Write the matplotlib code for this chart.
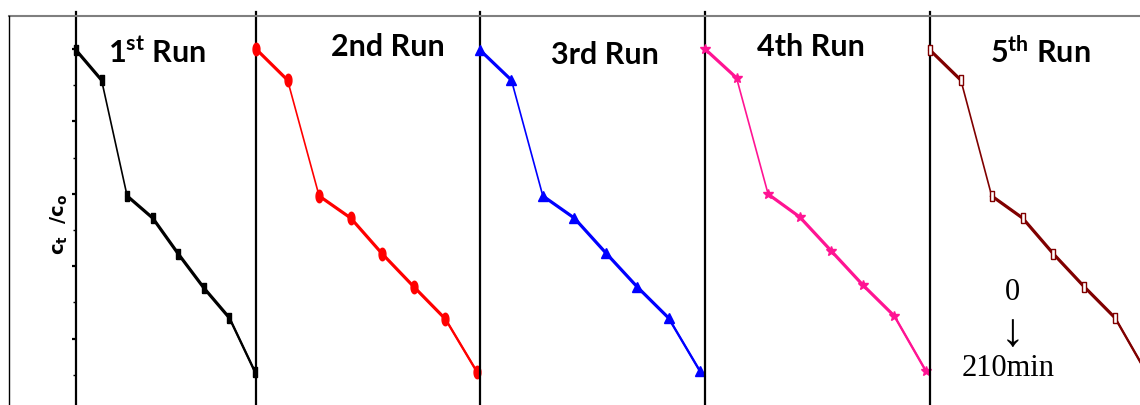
import numpy as np
import matplotlib
matplotlib.use("Agg")
import matplotlib.pyplot as plt
from matplotlib.lines import Line2D

plt.rcParams['mathtext.fontset'] = 'custom'
plt.rcParams['mathtext.rm'] = 'Lato:bold'
plt.rcParams['mathtext.bf'] = 'DejaVu Sans:bold'

# ---- data ----
time_min = [0, 30, 60, 90, 120, 150, 180, 210]
run1 = [0.997, 0.914, 0.594, 0.533, 0.434, 0.340, 0.257, 0.108]
run2 = [1.000, 0.914, 0.594, 0.533, 0.434, 0.343, 0.254, 0.108]
run3 = [0.997, 0.914, 0.594, 0.533, 0.437, 0.343, 0.257, 0.110]
run4 = [1.000, 0.920, 0.599, 0.536, 0.442, 0.348, 0.262, 0.110]
run5 = [0.997, 0.914, 0.594, 0.533, 0.434, 0.343, 0.257, 0.108]
runs = [run1, run2, run3, run4, run5]
titles = [r'1$^{\mathrm{st}}$ Run', '2nd Run', '3rd Run', '4th Run', r'5$^{\mathrm{th}}$ Run']
ylabel = r'$\mathbf{c_t}\ \ \mathbf{/c_o}$'
yticks_major = [0.2, 0.4, 0.6, 0.8, 1.0]
yticks_minor = [0.1, 0.3, 0.5, 0.7, 0.9]

# ---- style / layout ----
W, H = 1140, 405
colors = ['black', '#FF0000', '#0000FF', '#FF1493', '#800000']
rect = [(-0.35, -1), (0.35, -1), (0.35, 1), (-0.35, 1), (-0.35, -1)]
t = np.linspace(0, 2 * np.pi, 40)
ellipse = list(zip(0.55 * np.cos(t), np.sin(t)))
markers = [rect, ellipse, '^', '*', rect]
msizes = [7, 9, 7, 7, 7]
mfcs = ['black', '#FF0000', '#0000FF', '#FF1493', 'white']
edges = [76, 256, 480, 705, 930, 1140]      # panel left edges (px)
lastx = [255, 477, 700, 926, 1146]          # pixel of the 210-min point
title_pos = [(157, 53), (388, 47), (605, 55), (811, 47), (1040, 52)]
ytop_px, ybot_px = 12, 405
ylim = (1 - (ybot_px - 49) / 362, 1 + (49 - ytop_px) / 362)

fig = plt.figure(figsize=(W / 100, H / 100), dpi=100)

for i in range(5):
    l, r = edges[i], edges[i + 1]
    ax = fig.add_axes([l / W, 1 - ybot_px / H, (r - l) / W, (ybot_px - ytop_px) / H])
    ax.patch.set_alpha(0)
    xmax = 210 * (r - l) / (lastx[i] - l)
    ax.set_xlim(0, xmax)
    ax.set_ylim(*ylim)
    for s in ['top', 'right', 'bottom']:
        ax.spines[s].set_visible(False)
    ax.spines['left'].set_linewidth(1.6)
    ax.spines['left'].set_color('black')
    ax.set_xticks([])
    if i == 0:
        ax.set_yticks(yticks_major)
        ax.set_yticks(yticks_minor, minor=True)
        ax.tick_params(axis='y', which='major', length=3, width=1.6, labelleft=False)
        ax.tick_params(axis='y', which='minor', length=2, width=1.0, labelleft=False)
    else:
        ax.set_yticks([])
    y = runs[i]
    c = colors[i]
    ax.plot(time_min, y, color=c, lw=1.2, clip_on=False, zorder=2)
    ax.plot(time_min[0:2], y[0:2], color=c, lw=2.3, clip_on=False, zorder=3)
    ax.plot(time_min[2:7], y[2:7], color=c, lw=2.3, clip_on=False, zorder=3)
    ax.plot(time_min[6:8], y[6:8], color=c, lw=1.7, clip_on=False, zorder=3)
    ax.plot(time_min, y, ls='none', marker=markers[i], ms=msizes[i], mfc=mfcs[i],
            mec=c, mew=1.0, clip_on=False, zorder=4)
    tx, ty = title_pos[i]
    fig.text(tx / W, 1 - ty / H, titles[i], ha='center', va='center',
             fontsize=22, fontweight='bold', family='Lato')

# frame lines
fig.add_artist(Line2D([9 / W, 1], [1 - 16 / H, 1 - 16 / H], color='#7f7f7f', lw=1.5))
fig.add_artist(Line2D([9 / W, 9 / W], [0, 1 - 16 / H], color='black', lw=1.0))

# y label
fig.text(59 / W, 1 - 224 / H, ylabel, rotation=90, ha='center', va='center', fontsize=14)

# annotation
serif = ['Liberation Serif', 'DejaVu Serif']
fig.text(1012 / W, 1 - 293 / H, '0', ha='center', va='center', fontsize=22, family=serif)
fig.text(1012 / W, 1 - 335 / H, '\u2193', ha='center', va='center', fontsize=34, family=serif)
fig.text(1008 / W, 1 - 368 / H, '210min', ha='center', va='center', fontsize=22, family=serif)

fig.savefig('out.png', dpi=100)
